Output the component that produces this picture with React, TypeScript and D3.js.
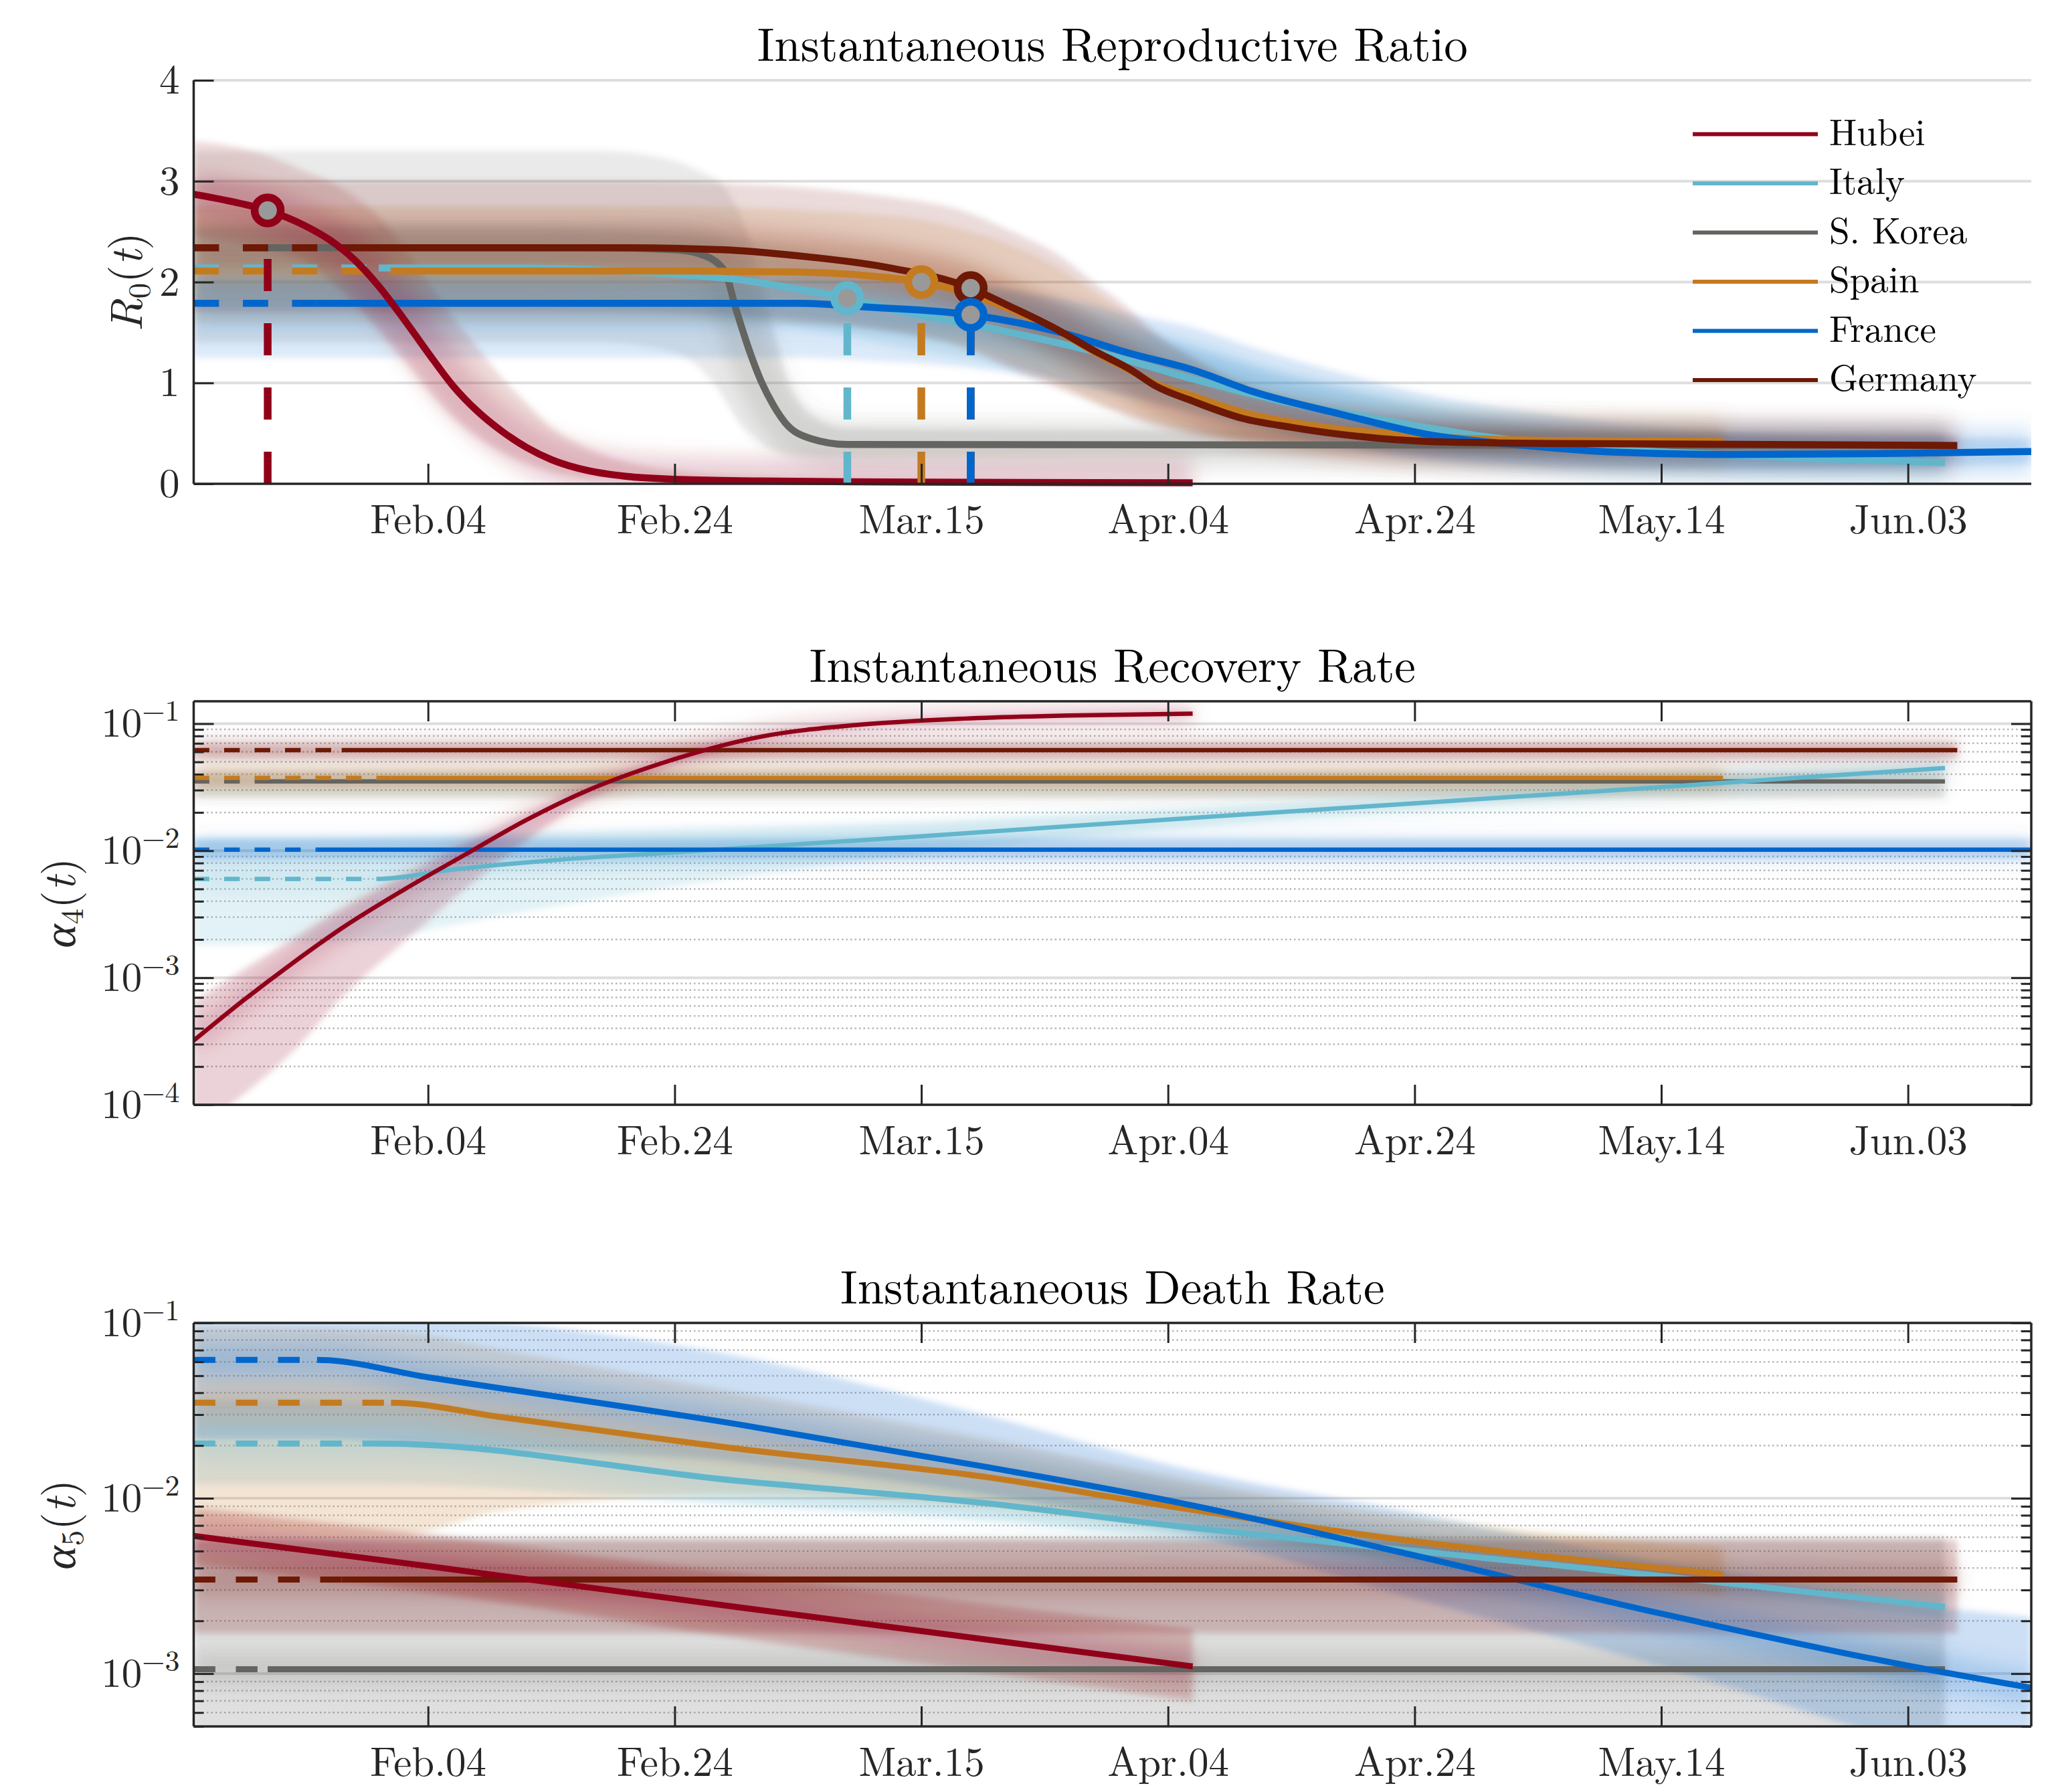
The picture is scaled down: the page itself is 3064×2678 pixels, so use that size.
import { useEffect, useRef } from "react";
import * as d3 from "d3";

// [date, median, lower band, upper band]
type Row = [string, number, number, number];

const SERIES = ["Hubei", "Italy", "S. Korea", "Spain", "France", "Germany"];
const COLORS = ["#910019", "#62b6cc", "#646460", "#c47b1f", "#0066cc", "#6e1806"];
// before this date each estimate is drawn dashed
const SOLID_FROM = ["Jan 16", "Jan 31", "Jan 22", "Feb 01", "Jan 26", "Jan 28"];
const DRAW_ORDER = [2, 1, 3, 4, 5, 0];

const X_DOMAIN = ["Jan 16", "Jun 13"];
const X_TICKS = ["Feb 04", "Feb 24", "Mar 15", "Apr 04", "Apr 24", "May 14", "Jun 03"];
const TITLES = [
  "Instantaneous Reproductive Ratio",
  "Instantaneous Recovery Rate",
  "Instantaneous Death Rate",
];

const R0_DOMAIN = [0, 4];
const R0_TICKS = [0, 1, 2, 3, 4];
const A4_DOMAIN = [1e-4, 0.15];
const A5_DOMAIN = [5e-4, 0.1];

// [series index, date, value]
const R0_MARKERS: [number, string, number][] = [
  [0, "Jan 22", 2.71],
  [1, "Mar 09", 1.84],
  [3, "Mar 15", 2.0],
  [5, "Mar 19", 1.94],
  [4, "Mar 19", 1.675],
];

// ── R0(t) ────────────────────────────────────────────────────────────────
const R0_HUBEI: Row[] = [
  ["Jan 16", 2.87, 2.45, 3.4], ["Jan 19", 2.8, 2.4, 3.35], ["Jan 22", 2.71, 2.32, 3.25],
  ["Jan 25", 2.56, 2.2, 3.1], ["Jan 27", 2.42, 2.02, 3.0], ["Jan 29", 2.225, 1.8, 2.85],
  ["Jan 31", 1.96, 1.52, 2.65], ["Feb 02", 1.64, 1.23, 2.35], ["Feb 04", 1.3, 0.93, 2.0],
  ["Feb 06", 0.975, 0.66, 1.65], ["Feb 08", 0.72, 0.46, 1.35], ["Feb 10", 0.52, 0.31, 1.05],
  ["Feb 12", 0.36, 0.2, 0.8], ["Feb 14", 0.24, 0.12, 0.56], ["Feb 17", 0.13, 0.06, 0.35],
  ["Feb 20", 0.075, 0.035, 0.22], ["Feb 24", 0.045, 0.02, 0.13], ["Mar 02", 0.028, 0.01, 0.07],
  ["Mar 15", 0.016, 0.005, 0.04], ["Apr 06", 0.01, 0.003, 0.02],
];
const R0_ITALY: Row[] = [
  ["Jan 16", 2.14, 1.75, 2.55], ["Feb 12", 2.14, 1.75, 2.55], ["Feb 21", 2.1, 1.72, 2.5],
  ["Mar 01", 2.01, 1.62, 2.42], ["Mar 05", 1.93, 1.55, 2.34], ["Mar 09", 1.84, 1.46, 2.25],
  ["Mar 14", 1.69, 1.33, 2.1], ["Mar 19", 1.58, 1.22, 1.98], ["Mar 23", 1.48, 1.12, 1.88],
  ["Mar 27", 1.37, 1.0, 1.76], ["Mar 31", 1.25, 0.9, 1.62], ["Apr 06", 1.04, 0.72, 1.36],
  ["Apr 14", 0.8, 0.52, 1.08], ["Apr 22", 0.62, 0.4, 0.85], ["Apr 29", 0.48, 0.3, 0.68],
  ["May 08", 0.36, 0.22, 0.52], ["May 15", 0.31, 0.19, 0.45], ["May 26", 0.25, 0.15, 0.37],
  ["Jun 06", 0.21, 0.13, 0.32],
];
const R0_SKOREA: Row[] = [
  ["Jan 16", 2.34, 1.4, 3.3], ["Feb 18", 2.34, 1.4, 3.3], ["Feb 24", 2.32, 1.3, 3.2],
  ["Feb 26", 2.28, 1.15, 3.1], ["Feb 28", 2.12, 0.85, 2.95], ["Feb 29", 1.72, 0.65, 2.75],
  ["Mar 01", 1.34, 0.5, 2.45], ["Mar 02", 1.02, 0.4, 2.0], ["Mar 03", 0.78, 0.33, 1.55],
  ["Mar 04", 0.6, 0.3, 1.1], ["Mar 06", 0.45, 0.28, 0.7], ["Mar 09", 0.39, 0.28, 0.55],
  ["Jun 06", 0.38, 0.28, 0.5],
];
const R0_SPAIN: Row[] = [
  ["Jan 16", 2.11, 1.6, 2.75], ["Feb 24", 2.11, 1.6, 2.75], ["Mar 05", 2.1, 1.58, 2.72],
  ["Mar 10", 2.07, 1.55, 2.68], ["Mar 15", 2.0, 1.47, 2.62], ["Mar 19", 1.88, 1.35, 2.5],
  ["Mar 22", 1.74, 1.2, 2.38], ["Mar 26", 1.52, 1.0, 2.15], ["Mar 29", 1.31, 0.82, 1.9],
  ["Apr 01", 1.12, 0.68, 1.65], ["Apr 03", 0.99, 0.6, 1.45], ["Apr 06", 0.87, 0.52, 1.25],
  ["Apr 10", 0.71, 0.45, 1.0], ["Apr 14", 0.61, 0.4, 0.85], ["Apr 18", 0.54, 0.37, 0.74],
  ["Apr 25", 0.47, 0.34, 0.62], ["May 05", 0.43, 0.32, 0.56], ["May 19", 0.42, 0.32, 0.54],
];
const R0_FRANCE: Row[] = [
  ["Jan 16", 1.79, 1.25, 2.05], ["Mar 05", 1.79, 1.25, 2.05], ["Mar 11", 1.75, 1.22, 2.02],
  ["Mar 19", 1.675, 1.15, 1.97], ["Mar 26", 1.51, 1.02, 1.85], ["Apr 01", 1.29, 0.85, 1.68],
  ["Apr 06", 1.13, 0.7, 1.55], ["Apr 11", 0.91, 0.55, 1.35], ["Apr 18", 0.69, 0.38, 1.1],
  ["Apr 25", 0.49, 0.25, 0.88], ["May 03", 0.38, 0.19, 0.72], ["May 10", 0.315, 0.16, 0.6],
  ["May 20", 0.29, 0.15, 0.5], ["Jun 01", 0.3, 0.17, 0.46], ["Jun 13", 0.32, 0.2, 0.45],
];
const R0_GERMANY: Row[] = [
  ["Jan 16", 2.34, 1.7, 3.0], ["Feb 20", 2.34, 1.7, 3.0], ["Feb 28", 2.32, 1.68, 2.98],
  ["Mar 05", 2.26, 1.62, 2.94], ["Mar 12", 2.15, 1.52, 2.85], ["Mar 19", 1.94, 1.32, 2.68],
  ["Mar 22", 1.77, 1.15, 2.52], ["Mar 26", 1.53, 0.95, 2.28], ["Mar 29", 1.32, 0.8, 2.0],
  ["Apr 01", 1.13, 0.66, 1.72], ["Apr 03", 0.97, 0.58, 1.5], ["Apr 06", 0.82, 0.5, 1.25],
  ["Apr 10", 0.65, 0.43, 0.98], ["Apr 14", 0.56, 0.39, 0.8], ["Apr 18", 0.49, 0.36, 0.68],
  ["Apr 25", 0.42, 0.32, 0.56], ["May 05", 0.4, 0.31, 0.51], ["Jun 07", 0.38, 0.3, 0.48],
];

// ── alpha4(t), recovery rate ─────────────────────────────────────────────
const A4_HUBEI: Row[] = [
  ["Jan 16", 3.2e-4, 6e-5, 6.5e-4], ["Jan 20", 6.6e-4, 1.2e-4, 1.15e-3], ["Jan 24", 1.3e-3, 2.6e-4, 2.0e-3],
  ["Jan 28", 2.45e-3, 7e-4, 3.5e-3], ["Feb 02", 4.9e-3, 1.9e-3, 6.3e-3], ["Feb 07", 9.3e-3, 5e-3, 1.12e-2],
  ["Feb 12", 0.0175, 0.012, 0.0198], ["Feb 17", 0.03, 0.025, 0.033], ["Feb 23", 0.049, 0.044, 0.053],
  ["Mar 02", 0.079, 0.074, 0.084], ["Mar 10", 0.098, 0.094, 0.103], ["Mar 18", 0.109, 0.105, 0.114],
  ["Mar 27", 0.116, 0.112, 0.121], ["Apr 06", 0.12, 0.116, 0.125],
];
const A4_ITALY: Row[] = [
  ["Jan 16", 6.0e-3, 1.8e-3, 1.25e-2], ["Jan 31", 6.0e-3, 2.0e-3, 1.3e-2], ["Feb 06", 7.1e-3, 2.6e-3, 1.35e-2],
  ["Feb 14", 8.4e-3, 3.6e-3, 1.42e-2], ["Feb 24", 9.7e-3, 5.2e-3, 1.5e-2], ["Mar 15", 0.013, 9.5e-3, 0.0168],
  ["Apr 04", 0.0176, 0.0148, 0.0208], ["Apr 24", 0.0236, 0.021, 0.0265], ["May 14", 0.0317, 0.029, 0.0345],
  ["Jun 06", 0.0448, 0.041, 0.049],
];
const A4_SKOREA: Row[] = [["Jan 16", 0.0351, 0.026, 0.041], ["Jun 06", 0.0351, 0.026, 0.041]];
const A4_SPAIN: Row[] = [["Jan 16", 0.0374, 0.032, 0.043], ["May 19", 0.0374, 0.032, 0.043]];
const A4_FRANCE: Row[] = [["Jan 16", 0.0102, 0.0086, 0.0125], ["Jun 13", 0.0102, 0.0086, 0.0125]];
const A4_GERMANY: Row[] = [["Jan 16", 0.0618, 0.054, 0.07], ["Jun 07", 0.0618, 0.054, 0.07]];

// ── alpha5(t), death rate ────────────────────────────────────────────────
const A5_HUBEI: Row[] = [
  ["Jan 16", 0.0061, 0.0042, 0.0088], ["Feb 04", 0.0041, 0.0029, 0.0062],
  ["Feb 29", 0.0024, 0.0016, 0.0037], ["Apr 06", 0.0011, 0.0007, 0.0018],
];
const A5_ITALY: Row[] = [
  ["Jan 16", 0.0205, 0.012, 0.036], ["Jan 31", 0.0205, 0.012, 0.035], ["Feb 29", 0.0126, 0.0092, 0.019],
  ["Mar 20", 0.0094, 0.0076, 0.0118], ["Apr 05", 0.0069, 0.0059, 0.0081], ["Apr 23", 0.0051, 0.0045, 0.0058],
  ["May 14", 0.0036, 0.0032, 0.0041], ["Jun 06", 0.0024, 0.0021, 0.0028],
];
const A5_SKOREA: Row[] = [["Jan 16", 0.00106, 0.0003, 0.006], ["Jun 06", 0.00106, 0.0003, 0.006]];
const A5_SPAIN: Row[] = [
  ["Jan 16", 0.0351, 0.006, 0.095], ["Feb 01", 0.0351, 0.006, 0.09], ["Feb 10", 0.029, 0.0085, 0.07],
  ["Feb 29", 0.0192, 0.0105, 0.04], ["Mar 20", 0.0133, 0.009, 0.022], ["Apr 05", 0.0088, 0.0068, 0.013],
  ["Apr 23", 0.0058, 0.0045, 0.0078], ["May 19", 0.00368, 0.0028, 0.0052],
];
const A5_FRANCE: Row[] = [
  ["Jan 16", 0.0615, 0.022, 0.12], ["Jan 26", 0.0615, 0.022, 0.12], ["Feb 04", 0.049, 0.02, 0.11],
  ["Feb 29", 0.0265, 0.016, 0.065], ["Mar 20", 0.0152, 0.0105, 0.03], ["Apr 05", 0.0094, 0.0065, 0.015],
  ["Apr 23", 0.0049, 0.0028, 0.0085], ["May 14", 0.0022, 0.0011, 0.0043], ["Jun 03", 0.00111, 0.0004, 0.0025],
  ["Jun 13", 0.00083, 0.00025, 0.0021],
];
const A5_GERMANY: Row[] = [["Jan 16", 0.00344, 0.0017, 0.0058], ["Jun 07", 0.00344, 0.0017, 0.0058]];

// ── layout ───────────────────────────────────────────────────────────────
const W = 3064;
const H = 2678;
const LEFT = 289.5;
const RIGHT = 3036;
const PANEL_TOPS = [120, 1048, 1977];
const PANEL_H = 603;
const FONT = "'Latin Modern Roman', 'CMU Serif', 'Liberation Serif', serif";
const INK = "#262626";

const parse = (s: string) => d3.timeParse("%b %d %Y")(`${s} 2020`) as Date;

const PANELS = [
  { log: false, domain: R0_DOMAIN, rows: [R0_HUBEI, R0_ITALY, R0_SKOREA, R0_SPAIN, R0_FRANCE, R0_GERMANY], lw: 10.5, glow: 70, band: 0.14, sub: "0", sym: "R", labelX: 212 },
  { log: true, domain: A4_DOMAIN, rows: [A4_HUBEI, A4_ITALY, A4_SKOREA, A4_SPAIN, A4_FRANCE, A4_GERMANY], lw: 6.5, glow: 30, band: 0.18, sub: "4", sym: "α", labelX: 112 },
  { log: true, domain: A5_DOMAIN, rows: [A5_HUBEI, A5_ITALY, A5_SKOREA, A5_SPAIN, A5_FRANCE, A5_GERMANY], lw: 9, glow: 50, band: 0.2, sub: "5", sym: "α", labelX: 112 },
];

export default function App() {
  const svgRef = useRef<SVGSVGElement>(null);

  useEffect(() => {
    if (!svgRef.current) return;
    const svg = d3.select(svgRef.current);
    svg.selectAll("*").remove();

    const defs = svg.append("defs");
    const blur = (id: string, sd: number) =>
      defs.append("filter").attr("id", id)
        .attr("filterUnits", "userSpaceOnUse")
        .attr("x", 0).attr("y", 0).attr("width", W).attr("height", H)
        .append("feGaussianBlur").attr("stdDeviation", sd);
    blur("soft", 5);
    blur("glow", 14);

    const x = d3.scaleTime()
      .domain([parse(X_DOMAIN[0]), parse(X_DOMAIN[1])])
      .range([LEFT, RIGHT]);
    const xTicks = X_TICKS.map(parse);

    PANELS.forEach((p, pi) => {
      const top = PANEL_TOPS[pi];
      const bottom = top + PANEL_H;
      const y = p.log
        ? d3.scaleLog().domain(p.domain).range([bottom, top])
        : d3.scaleLinear().domain(p.domain).range([bottom, top]);
      const isMajor = (v: number) =>
        !p.log || Math.abs(Math.log10(v) - Math.round(Math.log10(v))) < 1e-9;
      const yTicks = p.log ? (y as d3.ScaleLogarithmic<number, number>).ticks() : R0_TICKS;

      const g = svg.append("g");

      defs.append("clipPath").attr("id", `plot-${pi}`)
        .append("rect").attr("x", LEFT).attr("y", top)
        .attr("width", RIGHT - LEFT).attr("height", PANEL_H);

      // ── Grid ──────────────────────────────────────────────────────────
      const grid = g.append("g");
      yTicks.forEach((v) => {
        if (!p.log && v === 0) return;
        const major = isMajor(v);
        grid.append("line")
          .attr("x1", LEFT).attr("x2", RIGHT)
          .attr("y1", y(v)).attr("y2", y(v))
          .attr("stroke", major ? "#dedede" : "#b8b8b8")
          .attr("stroke-width", major ? 4 : 2.5)
          .attr("stroke-dasharray", major ? null : "2.5,4");
      });

      const line = d3.line<Row>()
        .x((r) => x(parse(r[0])))
        .y((r) => y(r[1]))
        .curve(d3.curveMonotoneX);
      const area = d3.area<Row>()
        .x((r) => x(parse(r[0])))
        .y0((r) => y(r[2]))
        .y1((r) => y(r[3]))
        .curve(d3.curveMonotoneX);

      const data = g.append("g").attr("clip-path", `url(#plot-${pi})`);

      // ── Uncertainty bands ─────────────────────────────────────────────
      DRAW_ORDER.forEach((si) => {
        data.append("path").datum(p.rows[si])
          .attr("d", area)
          .attr("fill", COLORS[si])
          .attr("fill-opacity", p.band)
          .attr("filter", "url(#soft)");
      });
      DRAW_ORDER.forEach((si) => {
        data.append("path").datum(p.rows[si])
          .attr("d", line)
          .attr("fill", "none")
          .attr("stroke", COLORS[si])
          .attr("stroke-opacity", 0.18)
          .attr("stroke-width", p.glow)
          .attr("filter", "url(#glow)");
      });

      // ── Median lines: dashed before data start, solid after ───────────
      DRAW_ORDER.forEach((si) => {
        const xs = x(parse(SOLID_FROM[si]));
        const rows = p.rows[si];
        defs.append("clipPath").attr("id", `dash-${pi}-${si}`)
          .append("rect").attr("x", LEFT).attr("y", top - 20)
          .attr("width", Math.max(0, xs - LEFT)).attr("height", PANEL_H + 40);
        defs.append("clipPath").attr("id", `solid-${pi}-${si}`)
          .append("rect").attr("x", xs).attr("y", top - 20)
          .attr("width", RIGHT - xs).attr("height", PANEL_H + 40);

        g.append("path").datum(rows)
          .attr("clip-path", `url(#dash-${pi}-${si})`)
          .attr("d", line)
          .attr("fill", "none")
          .attr("stroke", COLORS[si])
          .attr("stroke-width", p.lw)
          .attr("stroke-dasharray", `${p.lw * 3.6},${p.lw * 3.4}`);
        g.append("path").datum(rows)
          .attr("clip-path", `url(#solid-${pi}-${si})`)
          .attr("d", line)
          .attr("fill", "none")
          .attr("stroke", COLORS[si])
          .attr("stroke-width", p.lw)
          .attr("stroke-linejoin", "round");
      });

      // ── Intervention markers (R0 panel only) ──────────────────────────
      if (pi === 0) {
        R0_MARKERS.forEach(([si, d, v]) => {
          g.append("line")
            .attr("x1", x(parse(d))).attr("x2", x(parse(d)))
            .attr("y1", y(0)).attr("y2", y(v))
            .attr("stroke", COLORS[si])
            .attr("stroke-width", 11.5)
            .attr("stroke-dasharray", "48,48");
        });
        R0_MARKERS.forEach(([si, d, v]) => {
          g.append("circle")
            .attr("cx", x(parse(d))).attr("cy", y(v))
            .attr("r", 19.5)
            .attr("fill", "#999999")
            .attr("stroke", COLORS[si])
            .attr("stroke-width", 11.5);
        });
      }

      // ── Axes ──────────────────────────────────────────────────────────
      const styleAxis = (ag: d3.Selection<SVGGElement, unknown, null, undefined>) => {
        ag.select(".domain").remove();
        ag.attr("font-family", FONT).attr("font-size", 61);
        ag.selectAll(".tick line").attr("stroke", INK).attr("stroke-width", 3);
        ag.selectAll(".tick text").attr("fill", INK);
      };

      g.append("g")
        .attr("transform", `translate(0,${bottom})`)
        .call(d3.axisBottom(x).tickValues(xTicks).tickSize(-30).tickPadding(31)
          .tickFormat(d3.timeFormat("%b.%d") as (v: Date | d3.NumberValue) => string))
        .call(styleAxis);

      const yAxis = g.append("g")
        .attr("transform", `translate(${LEFT},0)`)
        .call(d3.axisLeft(y as d3.ScaleLinear<number, number>).tickValues(yTicks).tickSize(-30).tickPadding(21)
          .tickFormat((v) => String(v)))
        .call(styleAxis);

      if (p.log) {
        yAxis.selectAll<SVGGElement, number>(".tick").each(function (v) {
          const tick = d3.select(this);
          const text = tick.select("text");
          text.text(null);
          if (!isMajor(v)) {
            tick.select("line").attr("x2", 15);
            return;
          }
          text.append("tspan").text("10");
          text.append("tspan")
            .attr("dy", -24).attr("font-size", 44)
            .text(`\u2212${Math.abs(Math.round(Math.log10(v)))}`);
        });

        g.append("g")
          .attr("transform", `translate(0,${top})`)
          .call(d3.axisTop(x).tickValues(xTicks).tickSize(-30).tickFormat(() => ""))
          .call(styleAxis);
        const yRight = g.append("g")
          .attr("transform", `translate(${RIGHT},0)`)
          .call(d3.axisRight(y as d3.ScaleLinear<number, number>).tickValues(yTicks).tickSize(-30).tickFormat(() => ""))
          .call(styleAxis);
        yRight.selectAll<SVGGElement, number>(".tick").each(function (v) {
          if (!isMajor(v)) d3.select(this).select("line").attr("x2", -15);
        });

        g.append("line")
          .attr("x1", LEFT).attr("x2", RIGHT).attr("y1", top).attr("y2", top)
          .attr("stroke", INK).attr("stroke-width", 3.5);
        g.append("line")
          .attr("x1", RIGHT).attr("x2", RIGHT).attr("y1", top).attr("y2", bottom)
          .attr("stroke", INK).attr("stroke-width", 3.5);
      }

      g.append("line")
        .attr("x1", LEFT).attr("x2", RIGHT).attr("y1", bottom).attr("y2", bottom)
        .attr("stroke", INK).attr("stroke-width", 3.5);
      g.append("line")
        .attr("x1", LEFT).attr("x2", LEFT).attr("y1", top).attr("y2", bottom)
        .attr("stroke", INK).attr("stroke-width", 3.5);

      // ── Title and y label ─────────────────────────────────────────────
      g.append("text")
        .attr("x", (LEFT + RIGHT) / 2).attr("y", top - 29)
        .attr("text-anchor", "middle")
        .attr("font-family", FONT).attr("font-size", 71).attr("fill", "#000")
        .text(TITLES[pi]);

      const label = g.append("text")
        .attr("transform", `translate(${p.labelX},${top + PANEL_H / 2}) rotate(-90)`)
        .attr("text-anchor", "middle")
        .attr("font-family", FONT).attr("font-size", 68).attr("fill", INK);
      label.append("tspan").attr("font-style", "italic").text(p.sym);
      label.append("tspan").attr("font-size", 47).attr("dy", 12).text(p.sub);
      label.append("tspan").attr("dy", -12).text("(");
      label.append("tspan").attr("font-style", "italic").text("t");
      label.append("tspan").text(")");

      // ── Legend (top panel) ────────────────────────────────────────────
      if (pi === 0) {
        const lg = g.append("g");
        SERIES.forEach((name, si) => {
          const ly = 200.5 + si * 73.5;
          lg.append("line")
            .attr("x1", 2530).attr("x2", 2717).attr("y1", ly).attr("y2", ly)
            .attr("stroke", COLORS[si]).attr("stroke-width", 6);
          lg.append("text")
            .attr("x", 2734).attr("y", ly + 16)
            .attr("font-family", FONT).attr("font-size", 55).attr("fill", "#000")
            .text(name);
        });
      }
    });
  }, []);

  return (
    <svg
      ref={svgRef}
      width={W}
      height={H}
      style={{ position: "absolute", left: 0, top: 0, background: "#fff" }}
    />
  );
}
